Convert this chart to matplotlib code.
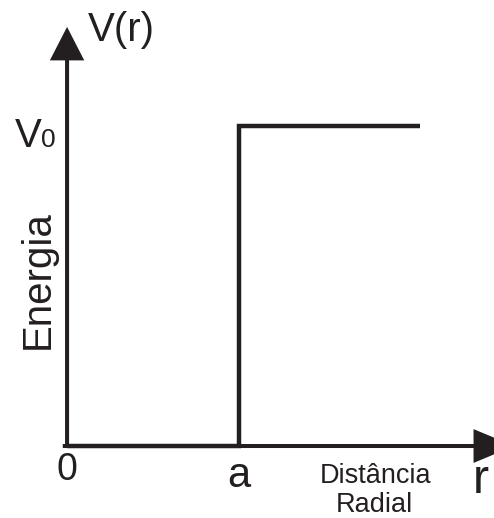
import matplotlib
matplotlib.use("Agg")
import matplotlib.pyplot as plt

# step potential: V = 0 inside r < a, V = V0 beyond
a = 1.0
V0 = 1.0
r_step = [0.0, a, a, 2.05]
V_step = [0.0, 0.0, V0, V0]

INK = '#231f20'
FONT = 'Liberation Sans'
plt.rcParams['font.family'] = [FONT, 'DejaVu Sans']

fig = plt.figure(figsize=(4.94, 5.18), dpi=100)
ax = fig.add_axes([0, 0, 1, 1])
ax.set_xlim(-0.39, 2.483)
ax.set_ylim(-0.225, 1.394)
ax.axis('off')

# axes with arrow heads
arrow_y = dict(arrowstyle='-|>,head_length=1.95,head_width=1.0',
               mutation_scale=10, lw=2.9, color=INK, shrinkA=0, shrinkB=0,
               joinstyle='miter', capstyle='butt')
arrow_x = dict(arrowstyle='-|>,head_length=2.4,head_width=1.0',
               mutation_scale=10, lw=2.9, color=INK, shrinkA=0, shrinkB=0,
               joinstyle='miter', capstyle='butt')
ax.annotate('', xy=(0, 1.31), xytext=(0, -0.005), arrowprops=arrow_y,
            annotation_clip=False)
ax.annotate('', xy=(2.6, 0), xytext=(-0.025, 0), arrowprops=arrow_x,
            annotation_clip=False)

ax.plot(r_step, V_step, color=INK, lw=3.2, solid_joinstyle='miter',
        solid_capstyle='butt')

ax.text(0.122, 1.266, 'V(r)', fontsize=29, color=INK, va='baseline', ha='left')
ax.text(-0.302, 0.934, 'V', fontsize=29, color=INK, va='baseline', ha='left')
ax.text(-0.150, 0.934, '0', fontsize=19, color=INK, va='baseline', ha='left')
ax.text(-0.169, 0.519, 'Energia', fontsize=29, color=INK, rotation=90,
        ha='center', va='center')

ax.text(0, -0.1063, '0', fontsize=27, color=INK, ha='center', va='baseline')
ax.text(a, -0.128, 'a', fontsize=30, color=INK, ha='center', va='baseline')
ax.text(2.407, -0.147, 'r', fontsize=35, color=INK, ha='center', va='baseline')
ax.text(1.797, -0.116, 'Distância', fontsize=19.5, color=INK, ha='center', va='baseline')
ax.text(1.785, -0.206, 'Radial', fontsize=19.5, color=INK, ha='center', va='baseline')

fig.savefig('out.png', dpi=100, facecolor='white')
